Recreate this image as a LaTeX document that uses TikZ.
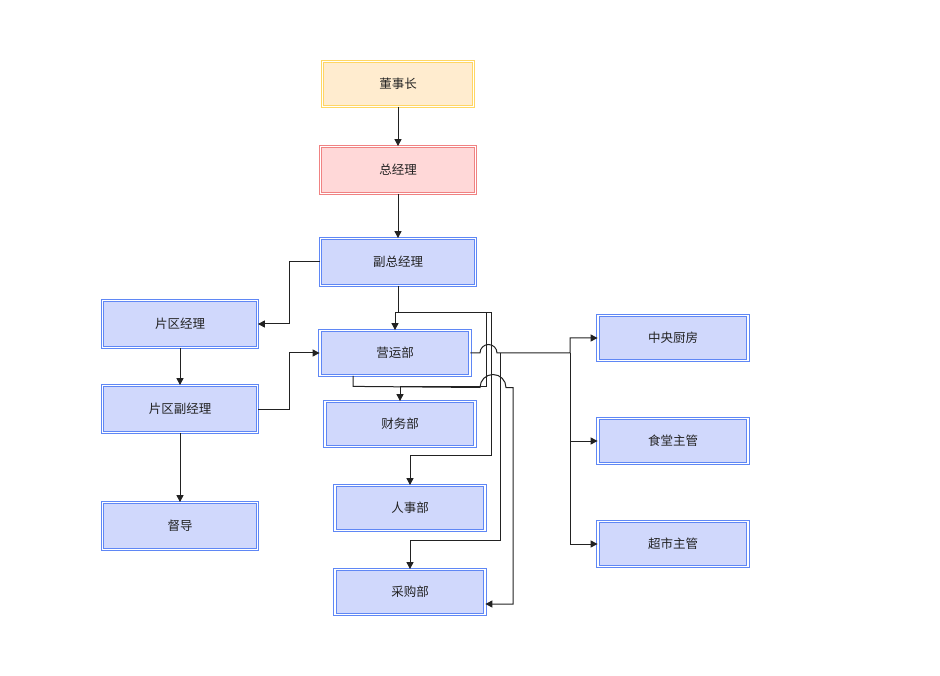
\documentclass[tikz,border=0pt]{standalone}
\usepackage{fontspec}
\setmainfont{Noto Sans CJK SC}
\usetikzlibrary{arrows.meta}
\tikzset{>={Triangle[width=7pt,length=7pt]}}
\definecolor{penColor}{RGB}{34,34,34}
\definecolor{blueLine}{RGB}{95,135,245}
\definecolor{blueFill}{RGB}{208,216,252}
\definecolor{yellowLine}{RGB}{255,214,100}
\definecolor{yellowFill}{RGB}{255,236,207}
\definecolor{redLine}{RGB}{240,130,130}
\definecolor{redFill}{RGB}{255,216,216}
\tikzset{
  unit/.style={draw=blueLine,fill=blueFill,double=white,double distance=1.6pt,
    line width=0.8pt,minimum width=150pt,minimum height=45pt,inner sep=0pt,
    text=penColor,font=\fontsize{12.5}{15}\selectfont},
  wide/.style={minimum width=155pt,minimum height=47pt},
  link/.style={->,penColor,line width=1pt}
}

\begin{document}
\begin{tikzpicture}[x=1pt,y=-1pt]
  \useasboundingbox (0,0) rectangle (940,676);
  % top of the chart
  \node [unit,draw=yellowLine,fill=yellowFill,minimum width=151pt] (dsz) at (398,84) {董事长};
  \node [unit,wide,draw=redLine,fill=redFill] (zjl) at (398,170) {总经理};
  \node [unit,wide] (fzjl) at (398,262) {副总经理};
  % district line
  \node [unit,wide] (pqjl) at (180,324) {片区经理};
  \node [unit,wide] (pqfjl) at (180,409) {片区副经理};
  \node [unit,wide] (dd) at (180,526) {督导};
  % departments
  \node [unit] (yyb) at (395,353) {营运部};
  \node [unit] (cwb) at (400,424) {财务部};
  \node [unit] (rsb) at (410,508) {人事部};
  \node [unit] (cgb) at (410,592) {采购部};
  \node [unit] (zycf) at (673,338) {中央厨房};
  \node [unit] (stzg) at (673,441) {食堂主管};
  \node [unit] (cszg) at (673,544) {超市主管};

  \coordinate (split) at (398,313);
  \coordinate (fork) at (570,353);

  \draw [link] (dsz) -- (zjl);
  \draw [link] (zjl) -- (fzjl);
  \draw [link] (fzjl.west) -- ++(-31,0) |- (pqjl.east);
  \draw [link] (pqjl) -- (pqfjl);
  \draw [link] (pqfjl) -- (dd);
  \draw [link] (pqfjl.east) -- ++(32,0) |- (yyb.west);

  \draw [link] (fzjl.south) -- (split) -| (yyb.north);
  \draw [link] (split) -- (486,313) -- (486,386) -| (cwb.north);
  \draw [link] (split) -- (491,313) -- (491,455) -| (rsb.north);

  % jumps over the two verticals
  \draw [link] (yyb.east) -- (480,353) arc [start angle=180,end angle=0,radius=8.5pt]
    -- (fork) |- (zycf.west);
  \draw [link] (fork) |- (stzg.west);
  \draw [link] (fork) |- (cszg.west);
  \draw [link] (500,353) -- (500,540) -| (cgb.north);
  \draw [link] ([xshift=-42pt]yyb.south) -- ++(0,10.5) -- (480,387.5)
    arc [start angle=180,end angle=0,radius=13pt] -- (513,387.5) |- ([yshift=-12pt]cgb.east);
\end{tikzpicture}
\end{document}
